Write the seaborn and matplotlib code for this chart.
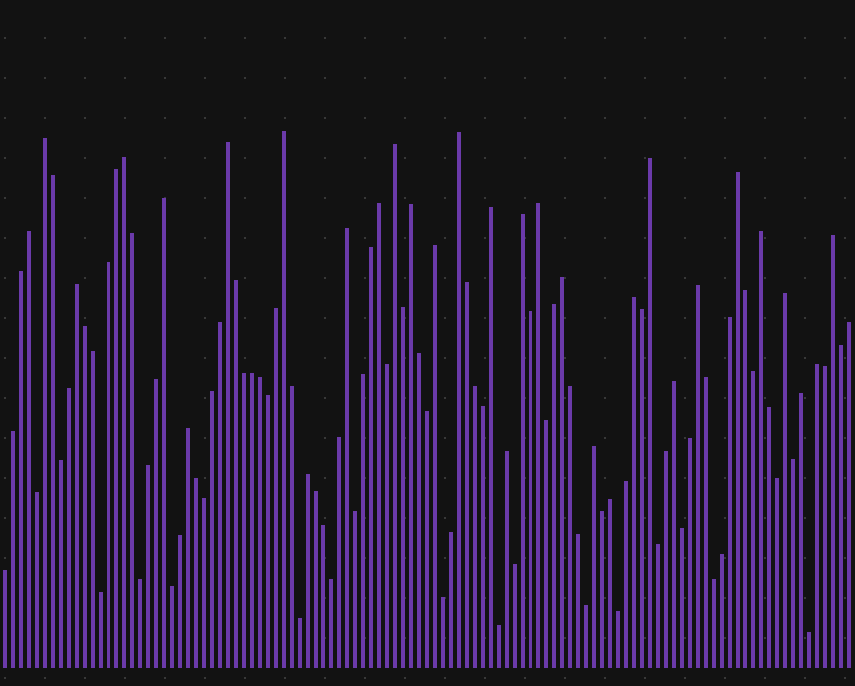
import numpy as np
import pandas as pd
import matplotlib
matplotlib.use("Agg")
import matplotlib.pyplot as plt
import seaborn as sns

# bar heights (pixel-ish units above the baseline)
heights = [
    98, 237, 397, 437, 176, 530, 493, 208, 280, 384,
    342, 317, 76, 406, 499, 511, 435, 89, 203, 289,
    470, 82, 133, 240, 190, 170, 277, 346, 526, 388,
    295, 295, 291, 273, 360, 537, 282, 50, 194, 177,
    143, 89, 231, 440, 157, 294, 421, 465, 304, 524,
    361, 464, 315, 257, 423, 71, 136, 536, 386, 282,
    262, 461, 43, 217, 104, 454, 357, 465, 248, 364,
    391, 282, 134, 63, 222, 157, 169, 57, 187, 371,
    359, 510, 124, 217, 287, 140, 230, 383, 291, 89,
    114, 351, 496, 378, 297, 437, 261, 190, 375, 209,
    275, 36, 304, 302, 433, 323, 346,
]
bar_ids = list(range(len(heights)))

BG = "#121212"
BAR = "#6b3aaa"
DOT = "#383838"

df = pd.DataFrame({"bar": bar_ids, "value": heights})

sns.set_style("dark")
plt.rcParams["lines.scale_dashes"] = False

fig = plt.figure(figsize=(8.55, 6.86), dpi=100, facecolor=BG)
ax = fig.add_axes([0, 0, 1, 1])
ax.set_facecolor(BG)

# dotted background: horizontal gridlines drawn as 2px dashes every 40px
px = 72 / 100
ax.set_yticks(np.arange(-10, 631, 40))
ax.yaxis.grid(True, color=DOT, linewidth=2 * px,
              linestyle=(36 * px, (2 * px, 38 * px)))
ax.xaxis.grid(False)
ax.set_axisbelow(True)

sns.barplot(
    data=df,
    x="bar",
    y="value",
    color=BAR,
    width=0.5,
    saturation=1,
    linewidth=0,
    ax=ax,
)

ax.set_xlim(-0.628, len(heights) - 1 + 0.754)
ax.set_ylim(-18, 668)

ax.set_xlabel("")
ax.set_ylabel("")
ax.tick_params(length=0, labelbottom=False, labelleft=False)
for s in ax.spines.values():
    s.set_visible(False)

fig.savefig("out.png", dpi=100, facecolor=BG)
